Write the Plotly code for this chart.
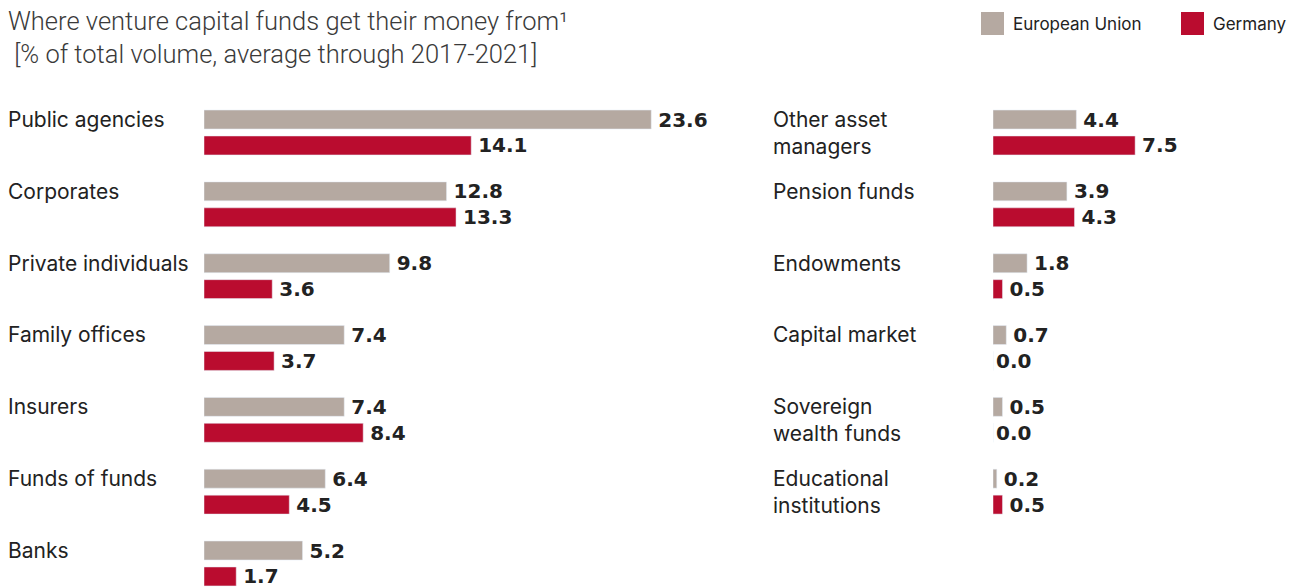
import plotly.graph_objects as go

W, H = 1301, 587
OFF = 8  # page body margin

# left panel
left_cats = ["Public agencies", "Corporates", "Private individuals", "Family offices",
             "Insurers", "Funds of funds", "Banks"]
left_eu = [23.6, 12.8, 9.8, 7.4, 7.4, 6.4, 5.2]
left_de = [14.1, 13.3, 3.6, 3.7, 8.4, 4.5, 1.7]

# right panel
right_cats = ["Other asset managers", "Pension funds", "Endowments", "Capital market",
              "Sovereign wealth funds", "Educational institutions"]
right_labels = ["Other asset<br>managers", "Pension funds", "Endowments", "Capital market",
                "Sovereign<br>wealth funds", "Educational<br>institutions"]
right_eu = [4.4, 3.9, 1.8, 0.7, 0.5, 0.2]
right_de = [7.5, 4.3, 0.5, 0.0, 0.0, 0.5]

EU_COL = "#b5a9a1"
DE_COL = "#ba0c2f"
TXT = "#222222"
PX_PER_UNIT = 18.95

FW, FH = W - OFF, H - OFF


def px(x):
    return (x - OFF) / FW


def py(y):
    return 1 - (y - OFF) / FH


val_font = dict(family="DejaVu Sans", size=20, color=TXT, weight="bold")

fig = go.Figure()
for xs, name, col in [(left_eu, "European Union", EU_COL), (left_de, "Germany", DE_COL)]:
    fig.add_trace(go.Bar(y=left_cats, x=xs, orientation="h", name=name, marker_color=col,
                         text=[f"\u2009{v:.1f}" for v in xs], textposition="outside",
                         textfont=val_font, cliponaxis=False, constraintext="none",
                         xaxis="x", yaxis="y", showlegend=False, hoverinfo="x+name"))
for xs, name, col in [(right_eu, "European Union", EU_COL), (right_de, "Germany", DE_COL)]:
    fig.add_trace(go.Bar(y=right_cats, x=xs, orientation="h", name=name, marker_color=col,
                         text=[f"\u2009{v:.1f}" if v > 0 else f"{v:.1f}" for v in xs],
                         textposition="outside", constraintext="none",
                         textfont=val_font, cliponaxis=False, xaxis="x2", yaxis="y2",
                         showlegend=False, hoverinfo="x+name"))

# axes: same px-per-unit scale in both panels
lx0, lx1 = 204, 760
rx0, rx1 = 993, 1300
pitch = 71.83
top = 132.5 - pitch / 2
yr = [-0.5 + (H - top) / pitch, -0.5]

hide = dict(showgrid=False, zeroline=False, showticklabels=False, showline=False, ticks="")
fig.update_layout(
    xaxis=dict(domain=[px(lx0), px(lx1)], range=[0, (lx1 - lx0) / PX_PER_UNIT], **hide),
    xaxis2=dict(domain=[px(rx0), px(rx1)], range=[0, (rx1 - rx0) / PX_PER_UNIT], anchor="y2", **hide),
    yaxis=dict(domain=[0, py(top)], range=yr, type="category", **hide),
    yaxis2=dict(domain=[0, py(top)], range=yr, type="category", anchor="x2", **hide),
    barmode="group", bargap=0.278, bargroupgap=0.27,
    width=FW, height=FH, margin=dict(l=0, r=0, t=0, b=0),
    plot_bgcolor="white", paper_bgcolor="white",
    font=dict(family="Inter", color=TXT),
)

lab_font = dict(family="Inter", size=21, color=TXT)
ann = []
for c in left_cats:
    ann.append(dict(xref="paper", x=px(6), yref="y", y=c, text=c, showarrow=False,
                    xanchor="left", yanchor="middle", yshift=13, align="left",
                    font=lab_font))
for c, lab in zip(right_cats, right_labels):
    ann.append(dict(xref="paper", x=px(771), yref="y2", y=c, text=lab, showarrow=False,
                    xanchor="left", yanchor="middle", yshift=0 if "<br>" in lab else 13,
                    align="left", font=lab_font))

# title
ann.append(dict(xref="paper", yref="paper", x=px(6), y=py(4), xanchor="left", yanchor="top",
                text="Where venture capital funds get their money from\u00b9<br> [% of total volume, average through 2017-2021]",
                showarrow=False, align="left",
                font=dict(family="Roboto", size=25.5, color="#3a3a3a", weight=300)))

# legend keys
shapes = []
for x0, lab, col in [(981, "European Union", EU_COL), (1181, "Germany", DE_COL)]:
    shapes.append(dict(type="rect", xref="paper", yref="paper", x0=px(x0), x1=px(x0 + 23),
                       y0=py(35), y1=py(12), fillcolor=col, line_width=0))
    ann.append(dict(xref="paper", yref="paper", x=px(x0 + 30), y=py(24), xanchor="left",
                    yanchor="middle", text=lab, showarrow=False,
                    font=dict(family="Inter", size=17, color=TXT)))

fig.update_layout(annotations=ann, shapes=shapes)
fig.write_html("out.html")
